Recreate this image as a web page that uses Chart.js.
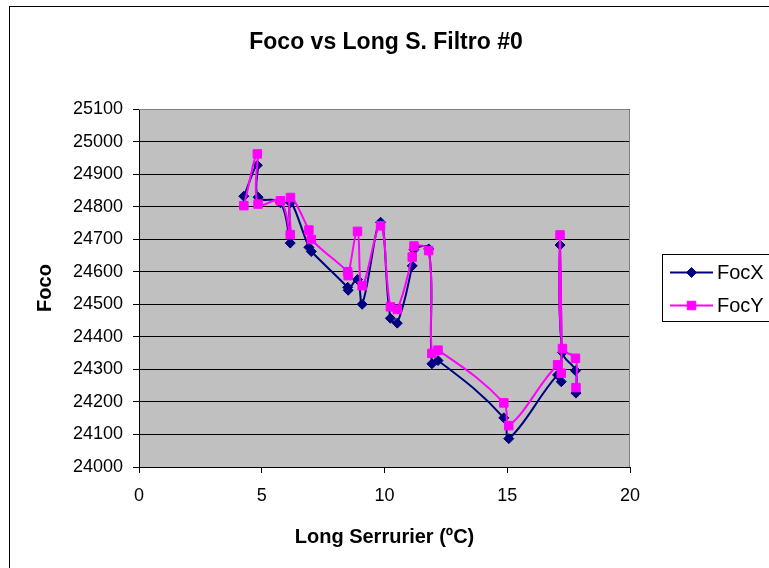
<!DOCTYPE html>
<html>
<head>
<meta charset="utf-8">
<title>Foco vs Long S. Filtro #0</title>
<script src="https://cdn.jsdelivr.net/npm/chart.js@4/dist/chart.umd.min.js"></script>
<style>
  html, body { margin: 0; padding: 0; background: #fff; }
  #wrap { width: 769px; height: 568px; position: relative; }
</style>
</head>
<body>
<div id="wrap"><canvas id="c" width="769" height="568"></canvas></div>
<script>
// Temperature of the Serrurier truss (ºC), in measurement order
const temps = [4.27, 4.82, 4.85, 5.76, 6.16, 6.17, 6.92, 7.02, 8.50, 8.52, 8.90, 9.09,
               9.84, 10.24, 10.52, 11.13, 11.20, 11.80, 11.93, 12.18, 14.86, 15.06,
               17.05, 17.20, 17.15, 17.25, 17.78, 17.80];
// Focus readings for each axis
const focX = [24832, 24927, 24829, 24812, 24688, 24812, 24675, 24662, 24552, 24543, 24576, 24500,
              24752, 24457, 24442, 24618, 24668, 24670, 24317, 24327, 24151, 24087,
              24283, 24262, 24682, 24352, 24296, 24227];
const focY = [24803, 24962, 24808, 24818, 24714, 24828, 24728, 24699, 24600, 24588, 24724, 24557,
              24741, 24492, 24484, 24645, 24679, 24665, 24349, 24359, 24197, 24127,
              24314, 24288, 24713, 24364, 24334, 24244];

const seriesNames = ['FocX', 'FocY'];
const xTicks = [0, 5, 10, 15, 20];
const yTicks = [24000, 24100, 24200, 24300, 24400, 24500, 24600, 24700, 24800, 24900, 25000, 25100];

const chartTitle = 'Foco vs Long S. Filtro #0';
const xTitle = 'Long Serrurier (ºC)';
const yTitle = 'Foco';

const FONT = "'Liberation Sans', Arial, sans-serif";
const W = 769, H = 568;

const toPoints = (ys) => temps.map((t, i) => ({ x: t, y: ys[i] }));

// Frame, plot background, title and boxed legend
const decor = {
  id: 'decor',
  beforeDraw(chart) {
    const c = chart.ctx, a = chart.chartArea;
    c.save();
    c.fillStyle = '#fff';
    c.fillRect(0, 0, chart.width, chart.height);
    c.strokeStyle = '#000';
    c.lineWidth = 1;
    c.strokeRect(9.5, 6.5, chart.width + 40, chart.height + 40);
    c.fillStyle = '#c0c0c0';
    c.fillRect(a.left, a.top, a.right - a.left, a.bottom - a.top);
    c.restore();
  },
  beforeDatasetsDraw(chart) {
    const c = chart.ctx, a = chart.chartArea;
    c.save();
    c.strokeStyle = '#808080';
    c.lineWidth = 1;
    c.beginPath();
    c.moveTo(a.left, a.top + 0.5);
    c.lineTo(a.right - 0.5, a.top + 0.5);
    c.lineTo(a.right - 0.5, a.bottom);
    c.stroke();
    c.restore();
  },
  afterDraw(chart) {
    const c = chart.ctx;
    c.save();
    // chart title
    c.fillStyle = '#000';
    c.font = 'bold 23px ' + FONT;
    c.textAlign = 'center';
    c.textBaseline = 'middle';
    c.fillText(chartTitle, 386, 43);

    // legend box
    const bx = 662, by = 254, bw = 140, bh = 67;
    c.fillStyle = '#fff';
    c.fillRect(bx, by, bw, bh);
    c.strokeStyle = '#000';
    c.lineWidth = 1;
    c.strokeRect(bx + 0.5, by + 0.5, bw, bh);
    const rows = [272.5, 305.5];
    const order = [1, 0]; // dataset index for FocX, FocY
    rows.forEach((ry, k) => {
      const ds = chart.data.datasets[order[k]];
      c.strokeStyle = ds.borderColor;
      c.lineWidth = ds.borderWidth;
      c.beginPath();
      c.moveTo(670, ry);
      c.lineTo(713, ry);
      c.stroke();
      c.fillStyle = ds.pointBackgroundColor;
      c.strokeStyle = ds.pointBorderColor;
      c.lineWidth = 1;
      Chart.helpers.drawPoint(c, {
        pointStyle: ds.pointStyle, radius: ds.pointRadius, borderWidth: 1, rotation: 0
      }, 691.5, ry);
      c.fillStyle = '#000';
      c.font = '20px ' + FONT;
      c.textAlign = 'left';
      c.textBaseline = 'middle';
      c.fillText(ds.label, 717, ry + 1);
    });
    c.restore();
  }
};

new Chart(document.getElementById('c'), {
  type: 'scatter',
  data: {
    datasets: [
      {
        label: seriesNames[1],
        data: toPoints(focY),
        showLine: true,
        tension: 0.4,
        borderColor: '#ff00ff',
        borderWidth: 2,
        pointStyle: 'rect',
        pointRadius: 6,
        pointHoverRadius: 6,
        pointBackgroundColor: '#ff00ff',
        pointBorderColor: '#ff00ff',
        pointBorderWidth: 1,
        order: 0
      },
      {
        label: seriesNames[0],
        data: toPoints(focX),
        showLine: true,
        tension: 0.4,
        borderColor: '#000080',
        borderWidth: 2,
        pointStyle: 'rectRot',
        pointRadius: 5,
        pointHoverRadius: 5,
        pointBackgroundColor: '#000080',
        pointBorderColor: '#000080',
        pointBorderWidth: 1,
        order: 1
      }
    ]
  },
  options: {
    responsive: false,
    animation: false,
    devicePixelRatio: 1,
    layout: { padding: { left: 0, top: 109, right: W - 630, bottom: 0 } },
    plugins: {
      legend: { display: false },
      title: { display: false },
      tooltip: { enabled: false }
    },
    scales: {
      x: {
        type: 'linear',
        min: xTicks[0],
        max: xTicks[xTicks.length - 1],
        afterBuildTicks: (s) => { s.ticks = xTicks.map(v => ({ value: v })); },
        afterFit: (s) => { s.height = H - 467; },
        grid: { drawOnChartArea: false, drawTicks: true, tickLength: 6, color: '#000', lineWidth: 1 },
        border: { display: true, color: '#000', width: 1 },
        ticks: { color: '#000', font: { family: FONT, size: 18 }, padding: 12, maxRotation: 0 },
        title: { display: true, text: xTitle, color: '#000',
                 font: { family: FONT, size: 20, weight: 'bold' }, padding: { top: 0, bottom: 19 } }
      },
      y: {
        type: 'linear',
        min: yTicks[0],
        max: yTicks[yTicks.length - 1],
        afterBuildTicks: (s) => { s.ticks = yTicks.map(v => ({ value: v })); },
        afterFit: (s) => { s.width = 139; },
        grid: { drawOnChartArea: true, drawTicks: true, tickLength: 6, color: '#000', lineWidth: 1 },
        border: { display: true, color: '#000', width: 1 },
        ticks: { color: '#000', font: { family: FONT, size: 18 }, padding: 10,
                 callback: (v) => String(v) },
        title: { display: true, text: yTitle, color: '#000',
                 font: { family: FONT, size: 20, weight: 'bold' }, padding: { top: 33, bottom: 0 } }
      }
    }
  },
  plugins: [decor]
});
</script>
</body>
</html>
